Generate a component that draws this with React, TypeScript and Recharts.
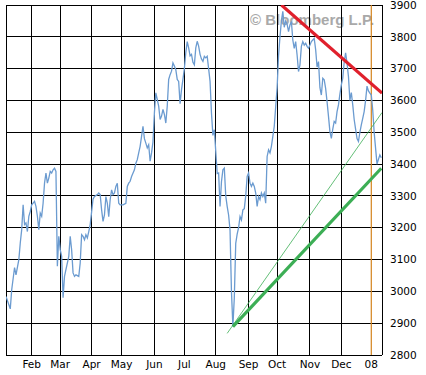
import React from 'react';
import { LineChart, Line, XAxis, YAxis, CartesianGrid, ReferenceLine } from 'recharts';

// x = weekday index counted from 1 Feb 2007 (Jan 2007 negative)
const dayIndex = [
  -18, -15, -14, -12, -11, -9, -8, -7, -6, -5, -4, -3, -2, -1, 0, 2, 3, 4, 5, 6, 7, 8, 9, 10,
  11, 12, 13, 14, 15, 16, 17, 18, 19, 20, 21, 22, 23, 24, 26, 27, 28, 29, 30, 31, 33, 34, 35,
  36, 37, 38, 39, 40, 41, 42, 43, 44, 46, 47, 48, 49, 50, 51, 52, 53, 54, 55, 56, 57, 58, 59,
  60, 61, 62, 64, 66, 67, 68, 69, 70, 72, 73, 74, 75, 76, 77, 78, 79, 80, 81, 82, 83, 84, 85,
  86, 87, 88, 89, 90, 91, 92, 93, 94, 95, 96, 97, 98, 99, 100, 101, 102, 103, 104, 105, 106,
  107, 108, 109, 110, 111, 112, 113, 114, 115, 116, 117, 118, 119, 120, 121, 122, 123, 124,
  125, 126, 127, 128, 129, 130, 131, 132, 133, 134, 135, 136, 137, 138, 139, 140, 141, 142,
  143, 144, 145, 146, 147, 148, 149, 150, 151, 152, 153, 154, 155, 156, 157, 158, 159, 160,
  161, 162, 163, 164, 165, 166, 167, 168, 169, 170, 171, 172, 173, 174, 175, 176, 177, 178,
  179, 180, 181, 182, 183, 184, 185, 186, 187, 188, 189, 190, 191, 192, 193, 194, 195, 196,
  197, 198, 199, 200, 201, 202, 203, 204, 205, 206, 207, 208, 209, 210, 211, 212, 213, 214,
  215, 216, 217, 218, 219, 220, 221, 222, 223, 224, 225, 226, 227, 228, 229, 230, 231, 232,
  233, 234, 235, 236, 237, 238, 239, 240, 241, 242, 243, 244, 245,
];

const closeValue = [
  2984, 2945, 3005, 3075, 3052, 3100, 3152, 3194, 3272, 3210, 3215, 3188, 3236, 3251, 3272, 3283, 3267, 3236, 3194, 3246, 3236, 3277, 3340, 3372,
  3340, 3356, 3377, 3372, 3382, 3387, 3377, 3079, 3173, 3131, 3110, 2980, 3047, 3068, 3110, 3173, 3131, 3058, 3047, 3052, 3047, 3089, 3178,
  3173, 3162, 3178, 3168, 3188, 3210, 3250, 3290, 3298, 3304, 3309, 3304, 3256, 3220, 3240, 3298, 3277, 3235, 3288, 3319, 3304, 3309, 3330,
  3340, 3277, 3272, 3272, 3277, 3330, 3340, 3346, 3361, 3382, 3403, 3414, 3435, 3456, 3487, 3519, 3480, 3466, 3451, 3461, 3409, 3435, 3470,
  3561, 3624, 3603, 3582, 3540, 3551, 3572, 3556, 3529, 3582, 3666, 3681, 3692, 3718, 3708, 3697, 3666, 3660, 3590, 3634, 3666,
  3700, 3750, 3785, 3765, 3740, 3745, 3720, 3712, 3765, 3786, 3771, 3745, 3730, 3723, 3739, 3734, 3739, 3700,
  3660, 3560, 3490, 3508, 3440, 3370, 3372, 3267, 3345, 3382, 3387, 3300, 3267, 3240, 3193, 3000, 2890, 2980,
  3151, 3180, 3200, 3235, 3224, 3256, 3260, 3300, 3361, 3372, 3340, 3330, 3340, 3330, 3309, 3267, 3298, 3288,
  3309, 3298, 3309, 3277, 3424, 3445, 3435, 3456, 3487, 3519, 3580, 3640, 3740, 3800, 3850, 3880, 3830, 3850,
  3840, 3816, 3837, 3848, 3790, 3764, 3785, 3743, 3691, 3712, 3770, 3785, 3774, 3780, 3770, 3764, 3774, 3785,
  3790, 3795, 3760, 3705, 3722, 3640, 3617, 3670, 3665, 3638, 3596, 3550, 3502, 3481, 3510, 3534, 3529, 3565,
  3586, 3620, 3649, 3670, 3720, 3750, 3717, 3675, 3600, 3625, 3586, 3540, 3510, 3480, 3471, 3500, 3523, 3544,
  3565, 3600, 3645, 3630, 3623, 3617, 3570, 3500, 3450, 3400, 3415, 3429, 3420,
];

const monthTicks = [0, 20, 42, 63, 86, 107, 129, 152, 172, 195, 217, 238];
const monthLabels = ['Feb', 'Mar', 'Apr', 'May', 'Jun', 'Jul', 'Aug', 'Sep', 'Oct', 'Nov', 'Dec', '08'];
const priceTicks = [2800, 2900, 3000, 3100, 3200, 3300, 3400, 3500, 3600, 3700, 3800, 3900];

const resistanceX = [175, 245.5];
const resistanceY = [3900, 3623];
const supportX = [141, 245];
const supportY = [2889, 3387];
const thinSupportX = [137, 245.5];
const thinSupportY = [2868, 3562];

const xDomain: [number, number] = [-18, 245.5];
const yearMarker = 238;

const priceData = dayIndex.map((x, i) => ({ x, close: closeValue[i] }));
const toLine = (xs: number[], ys: number[]) => xs.map((x, i) => ({ x, y: ys[i] }));
const resistanceData = toLine(resistanceX, resistanceY);
const supportData = toLine(supportX, supportY);
const thinSupportData = toLine(thinSupportX, thinSupportY);

const tickStyle = { fontFamily: '"DejaVu Sans", Verdana, sans-serif', fontSize: 10.5, fill: '#000' };
const gridX = [xDomain[0], ...monthTicks.filter((t) => t !== yearMarker), xDomain[1]];

export default function App() {
  return (
    <div style={{ position: 'absolute', left: 0, top: 0, width: 426, height: 375, background: '#fff' }}>
      <div
        style={{
          position: 'absolute',
          left: 250,
          top: 11.5,
          fontFamily: '"Liberation Sans", Arial, sans-serif',
          fontWeight: 'bold',
          fontSize: 15,
          lineHeight: '15px',
          color: '#a9a9a9',
          whiteSpace: 'nowrap',
        }}
      >
        © Bloomberg L.P.
      </div>
      <div style={{ position: 'absolute', left: 0, top: 0 }}>
        <LineChart width={426} height={375} margin={{ top: 5, left: 6, right: 0, bottom: 0 }}>
          <CartesianGrid stroke="#000" strokeWidth={1} vertical={false} shapeRendering="crispEdges" />
          <XAxis
            type="number"
            dataKey="x"
            domain={xDomain}
            ticks={monthTicks}
            tickFormatter={(v: number) => monthLabels[monthTicks.indexOf(v)] ?? ''}
            allowDataOverflow
            axisLine={false}
            tickLine={false}
            tickSize={6}
            tickMargin={0}
            height={20}
            tick={tickStyle}
            interval={0}
          />
          <YAxis
            orientation="right"
            type="number"
            domain={[2800, 3900]}
            ticks={priceTicks}
            allowDataOverflow
            axisLine={false}
            tickLine={false}
            tickSize={6}
            tickMargin={2}
            width={44}
            tick={{ ...tickStyle, textAnchor: 'start' }}
            interval={0}
          />
          {gridX.map((gx) => (
            <ReferenceLine key={gx} x={gx} stroke="#000" strokeWidth={1} shapeRendering="crispEdges" />
          ))}
          <ReferenceLine x={yearMarker} stroke="#d4831c" strokeWidth={1.2} strokeOpacity={1} />
          <Line
            data={priceData}
            dataKey="close"
            stroke="#6b9bd0"
            strokeWidth={1.3}
            dot={false}
            isAnimationActive={false}
            type="linear"
          />
          <Line
            data={thinSupportData}
            dataKey="y"
            stroke="#3cae55"
            strokeWidth={0.8}
            dot={false}
            isAnimationActive={false}
            type="linear"
          />
          <Line
            data={supportData}
            dataKey="y"
            stroke="#3cae55"
            strokeWidth={3.2}
            dot={false}
            isAnimationActive={false}
            type="linear"
          />
          <Line
            data={resistanceData}
            dataKey="y"
            stroke="#e0202c"
            strokeWidth={3.2}
            dot={false}
            isAnimationActive={false}
            type="linear"
          />
        </LineChart>
      </div>
    </div>
  );
}
